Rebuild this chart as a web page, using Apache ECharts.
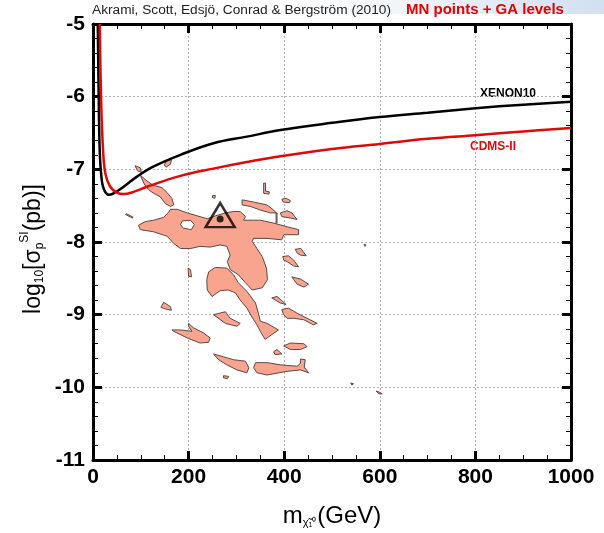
<!DOCTYPE html>
<html><head><meta charset="utf-8">
<script src="https://cdn.jsdelivr.net/npm/echarts@6/dist/echarts.min.js"></script>
<style>html,body{margin:0;padding:0;background:#fff}#c{width:604px;height:533px}</style>
</head><body><div id="c"></div>
<script>
// ---- axis ticks ----
const xTicks = [0, 200, 400, 600, 800, 1000];
const yTicks = [-11, -10, -9, -8, -7, -6, -5];

// ---- exclusion curves (mass GeV, log10 sigma) ----
const xenonMass = [10, 12, 14, 17, 22, 33, 43, 64, 92, 127, 183, 252, 322, 392, 500, 600, 700, 800, 900, 1000];
const xenonLog  = [-5, -6.05, -6.73, -7.06, -7.26, -7.35, -7.33, -7.24, -7.10, -6.96, -6.80, -6.64, -6.55, -6.46, -6.36, -6.28, -6.22, -6.16, -6.11, -6.07];
const cdmsMass  = [14, 17, 21, 26, 36, 50, 64, 85, 113, 183, 252, 322, 392, 500, 600, 700, 800, 900, 1000];
const cdmsLog   = [-5, -6.05, -6.73, -7.06, -7.24, -7.32, -7.34, -7.31, -7.24, -7.09, -6.99, -6.90, -6.82, -6.72, -6.65, -6.58, -6.53, -6.48, -6.43];

// ---- best fit point ----
const bestFit = [266, -7.685];

// ---- MN / GA credible regions (polygons in mass, log10 sigma) ----
const stripA = [[99,-7.08],[113,-7.16],[126,-7.22],[144,-7.25],[155,-7.32],[165,-7.40],[169,-7.49],[162,-7.51],[151,-7.47],[141,-7.38],[127,-7.33],[116,-7.28],[107,-7.20]];
const bitA1 = [[88,-6.95],[99,-6.98],[101,-7.04],[93,-7.02]];
const bitA2 = [[149,-6.94],[155,-6.87],[164,-6.87],[162,-6.93],[153,-6.97]];
const sliver1 = [[70,-7.61],[84,-7.66],[82,-7.67],[68,-7.62]];
const mainBody = [[95,-7.77],[109,-7.72],[127,-7.70],[148,-7.66],[158,-7.59],[162,-7.55],[176,-7.55],[197,-7.60],[218,-7.64],[239,-7.68],[256,-7.64],[277,-7.60],[294,-7.58],[308,-7.58],[319,-7.65],[315,-7.70],[336,-7.70],[350,-7.70],[378,-7.74],[406,-7.79],[430,-7.83],[430,-7.90],[399,-7.90],[395,-7.97],[364,-7.95],[336,-7.95],[333,-7.99],[343,-8.09],[354,-8.20],[363,-8.36],[365,-8.52],[354,-8.63],[333,-8.66],[319,-8.56],[304,-8.45],[287,-8.38],[281,-8.27],[287,-8.18],[280,-8.06],[266,-8.04],[245,-8.07],[224,-8.06],[204,-8.09],[183,-8.09],[169,-8.02],[155,-7.92],[127,-7.86],[99,-7.83]];
const mainHole = [[187,-7.71],[204,-7.70],[212,-7.76],[206,-7.83],[189,-7.81],[183,-7.76]];
const sStrand = [[238,-8.52],[242,-8.41],[256,-8.35],[280,-8.36],[294,-8.45],[304,-8.56],[322,-8.68],[340,-8.84],[346,-8.98],[350,-9.09],[364,-9.12],[388,-9.21],[360,-9.34],[350,-9.23],[343,-9.14],[336,-9.07],[322,-8.91],[308,-8.80],[298,-8.70],[283,-8.66],[266,-8.67],[249,-8.75],[239,-8.66]];
const sliver2 = [[199,-8.36],[204,-8.38],[206,-8.48],[200,-8.47]];
const armC = [[312,-7.42],[336,-7.45],[364,-7.49],[378,-7.56],[383,-7.60],[371,-7.60],[350,-7.56],[329,-7.51],[312,-7.49]];
const stem = [[383,-7.60],[385,-7.60],[385,-7.74],[383,-7.74]];
const bracket = [[357,-7.19],[361,-7.19],[361,-7.30],[369,-7.31],[368,-7.34],[357,-7.33]];
const pieceN = [[395,-7.41],[404,-7.40],[413,-7.43],[411,-7.46],[398,-7.45]];
const pieceO = [[392,-7.60],[406,-7.57],[416,-7.60],[427,-7.69],[413,-7.67],[395,-7.65]];
const pieceQ = [[423,-8.10],[435,-8.09],[446,-8.19],[434,-8.18],[427,-8.15]];
const pieceR = [[397,-8.20],[409,-8.19],[420,-8.25],[430,-8.34],[420,-8.33],[406,-8.27],[399,-8.25]];
const pieceH = [[416,-8.48],[434,-8.51],[451,-8.58],[441,-8.62],[427,-8.58],[420,-8.52]];
const pieceF = [[374,-8.77],[385,-8.75],[404,-8.86],[392,-8.84]];
const pieceG = [[395,-8.93],[409,-8.91],[427,-8.98],[448,-9.05],[469,-9.12],[461,-9.14],[441,-9.07],[420,-9.05],[406,-9.05],[399,-9.00]];
const leaf = [[252,-9.00],[277,-8.96],[287,-9.05],[308,-9.12],[301,-9.16],[277,-9.12]];
const crescent = [[200,-9.12],[210,-9.18],[231,-9.25],[245,-9.32],[242,-9.38],[224,-9.39],[197,-9.32],[169,-9.23],[165,-9.21],[183,-9.21],[207,-9.23],[200,-9.16]];
const pieceE = [[148,-8.83],[162,-8.89],[164,-8.94],[151,-8.92],[142,-8.90]];
const pieceI = [[399,-9.43],[413,-9.39],[441,-9.40],[448,-9.44],[434,-9.48],[413,-9.48]];
const pieceJ = [[378,-9.51],[385,-9.48],[395,-9.54],[381,-9.55]];
const strandK = [[252,-9.54],[273,-9.58],[294,-9.62],[319,-9.64],[326,-9.73],[322,-9.80],[301,-9.76],[280,-9.69],[263,-9.62]];
const strandL = [[340,-9.66],[364,-9.66],[392,-9.69],[427,-9.71],[434,-9.67],[434,-9.61],[444,-9.62],[442,-9.72],[451,-9.80],[434,-9.76],[406,-9.78],[364,-9.83],[343,-9.80],[336,-9.73]];
const pieceM = [[273,-9.84],[284,-9.85],[281,-9.88],[273,-9.87]];
const speck1 = [[250,-7.36],[256,-7.36],[255,-7.40],[250,-7.39]];
const speck2 = [[567,-8.03],[571,-8.04],[569,-8.06]];
const speck3 = [[539,-9.94],[545,-9.95],[542,-9.97]];
const speck4 = [[592,-10.05],[600,-10.07],[605,-10.09],[598,-10.09]];

const regions = [stripA, bitA1, bitA2, sliver1, mainBody, sStrand, sliver2, armC, stem, bracket, pieceN, pieceO, pieceQ, pieceR, pieceH, pieceF, pieceG, leaf, crescent, pieceE, pieceI, pieceJ, strandK, strandL, pieceM, speck1, speck2, speck3, speck4];
const holes = [mainHole];

const FONT = '"Liberation Sans Narrow", "Liberation Sans", Arial, sans-serif';
const FONT2 = '"Liberation Sans", Arial, sans-serif';

function pairs(xs, ys){ return xs.map((x,i)=>[x, ys[i]]); }

function polySeries(list, fill){
  return {
    type:'custom', coordinateSystem:'cartesian2d', xAxisIndex:0, yAxisIndex:0,
    data: list.map(p=>[p[0][0], p[0][1]]),
    encode:{x:0, y:1}, silent:true, clip:true,
    renderItem:function(params, api){
      const pts = list[params.dataIndex].map(p=>api.coord(p));
      return {type:'polygon', shape:{points:pts}, style:{fill:fill, stroke:'#5a4a46', lineWidth:1}};
    },
    z:2
  };
}

const axisCommon = {
  type:'value',
  axisLine:{show:true, onZero:false, lineStyle:{color:'#000', width:3}},
  axisTick:{show:true, inside:true, length:9, lineStyle:{color:'#000', width:3}},
  minorTick:{show:true, length:5, lineStyle:{color:'#000', width:1}},
};

const chart = echarts.init(document.getElementById('c'), null, {renderer:'canvas'});
chart.setOption({
  animation:false,
  backgroundColor:'#fff',
  grid:{left:93, right:33, top:24, bottom:73, containLabel:false},
  xAxis:[
    Object.assign({}, axisCommon, {position:'bottom', min:xTicks[0], max:xTicks[xTicks.length-1], interval:200,
      minorTick:Object.assign({}, axisCommon.minorTick, {splitNumber:4}),
      axisLabel:{show:true, fontSize:21, fontWeight:'bold', color:'#000', fontFamily:FONT, margin:7,
        formatter:function(v){ return String(v); }},
      splitLine:{show:true, lineStyle:{color:'#b0b0b0', type:[2,2], width:1}}}),
    Object.assign({}, axisCommon, {position:'top', min:xTicks[0], max:xTicks[xTicks.length-1], interval:200,
      minorTick:Object.assign({}, axisCommon.minorTick, {splitNumber:4}),
      axisLabel:{show:false}, splitLine:{show:false}})
  ],
  yAxis:[
    Object.assign({}, axisCommon, {position:'left', min:yTicks[0], max:yTicks[yTicks.length-1], interval:1,
      minorTick:Object.assign({}, axisCommon.minorTick, {splitNumber:5}),
      axisLabel:{show:true, fontSize:21, fontWeight:'bold', color:'#000', fontFamily:FONT, margin:8,
        formatter:function(v){ return String(v); }},
      splitLine:{show:true, lineStyle:{color:'#b0b0b0', type:[2,2], width:1}}}),
    Object.assign({}, axisCommon, {position:'right', min:yTicks[0], max:yTicks[yTicks.length-1], interval:1,
      minorTick:Object.assign({}, axisCommon.minorTick, {splitNumber:5}),
      axisLabel:{show:false}, splitLine:{show:false}})
  ],
  series:[
    polySeries(regions, '#f9a48e'),
    polySeries(holes, '#ffffff'),
    {type:'line', name:'XENON10', data:pairs(xenonMass, xenonLog), smooth:0.4, showSymbol:false,
      lineStyle:{color:'#000', width:2.5}, z:3, clip:true},
    {type:'line', name:'CDMS-II', data:pairs(cdmsMass, cdmsLog), smooth:0.4, showSymbol:false,
      lineStyle:{color:'#dd0a0a', width:2.5}, z:3, clip:true},
    {type:'scatter', data:[bestFit], symbol:'triangle', symbolSize:[29,24], symbolOffset:[0,-4],
      itemStyle:{color:'rgba(0,0,0,0)', borderColor:'#000', borderWidth:2.5}, z:4},
    {type:'scatter', data:[bestFit], symbol:'circle', symbolSize:7,
      itemStyle:{color:'#000'}, z:5}
  ],
  graphic:[
    {type:'rect', left:300, top:0, shape:{width:304, height:14}, silent:true, z:-1,
      style:{fill:new echarts.graphic.LinearGradient(0,0,1,0,[{offset:0,color:'rgba(205,220,238,0)'},{offset:1,color:'rgba(205,220,238,0.9)'}])}},
    {type:'text', left:92, top:3, style:{text:'Akrami, Scott, Edsjö, Conrad & Bergström (2010)', fontSize:13.7, fontFamily:FONT2, fill:'#222'}},
    {type:'text', left:406, top:2, style:{text:'MN points + GA levels', fontSize:15, fontWeight:'bold', fontFamily:FONT2, fill:'#e00000'}},
    {type:'text', left:480, top:88, style:{text:'XENON10', fontSize:12, fontWeight:'bold', fontFamily:FONT2, fill:'#000'}},
    {type:'text', left:470, top:141, style:{text:'CDMS-II', fontSize:12, fontWeight:'bold', fontFamily:FONT2, fill:'#dd0a0a'}},
    {type:'text', x:332, y:514, style:{
      text:'{n|m}{s|χ̃₁⁰}{n|(GeV)}', align:'center', verticalAlign:'middle',
      rich:{n:{fontSize:24, fontFamily:FONT, fill:'#000', lineHeight:28, verticalAlign:'bottom'},
            s:{fontSize:11, fontFamily:FONT2, fill:'#000', verticalAlign:'bottom', padding:[8,1,0,0]}}}},
    {type:'text', x:32, y:249, rotation:Math.PI/2, style:{
      text:'{n|log}{s|10}{n|[σ}{s|p}{u|SI}{n|(pb)]}', align:'center', verticalAlign:'middle',
      rich:{n:{fontSize:23, fontFamily:FONT, fill:'#000', lineHeight:27, verticalAlign:'bottom'},
            s:{fontSize:12, fontFamily:FONT, fill:'#000', verticalAlign:'bottom', padding:[6,0,0,0]},
            u:{fontSize:12, fontFamily:FONT, fill:'#000', verticalAlign:'top'}}}}
  ]
});
</script></body></html>
